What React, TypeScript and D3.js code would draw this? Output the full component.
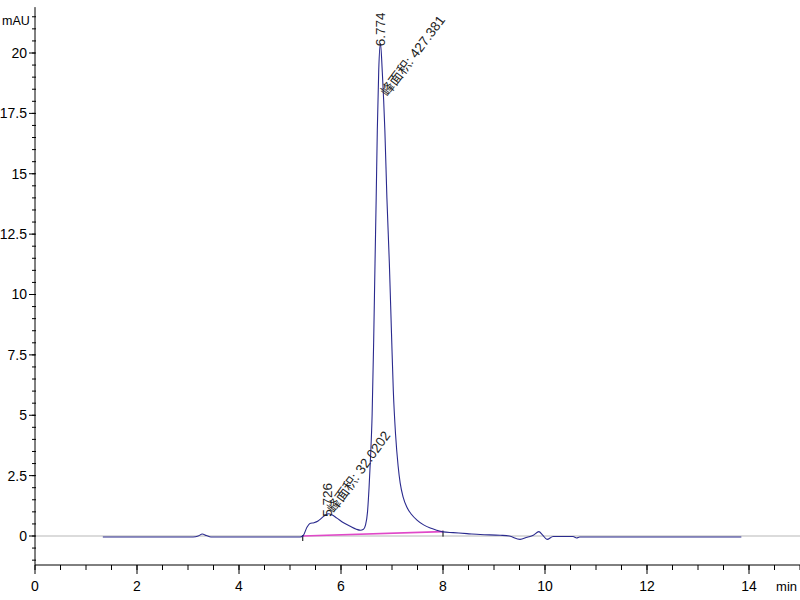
import React from 'react';
import { scaleLinear, line as d3Line, curveMonotoneX, range } from 'd3';

// retention time (min) and signal (mAU)
const times = [
  1.33, 3.1, 3.2, 3.28, 3.36, 3.45, 5.2, 5.26, 5.33, 5.39, 5.47, 5.55, 5.63, 5.7, 5.75,
  5.82, 5.92, 6.05, 6.18, 6.3, 6.38, 6.44, 6.48, 6.52, 6.55, 6.58, 6.61, 6.64, 6.667,
  6.69, 6.712, 6.74, 6.774, 6.81, 6.86, 6.9, 6.948, 6.99, 7.026, 7.07, 7.12, 7.16, 7.22,
  7.29, 7.38, 7.49, 7.62, 7.75, 7.88, 8.0, 8.2, 8.47, 8.73, 9.12, 9.3, 9.51, 9.65, 9.77,
  9.88, 9.95, 10.04, 10.16, 10.55, 10.62, 10.68, 10.8, 13.85,
];
const signal = [
  -0.04, -0.04, 0.0, 0.08, 0.02, -0.04, -0.04, 0.02, 0.35, 0.52, 0.55, 0.62, 0.76, 0.88, 0.92,
  0.88, 0.74, 0.55, 0.4, 0.28, 0.24, 0.28, 0.45, 1.0, 2.0, 3.3, 5.0, 8.0, 11.3,
  14.0, 16.8, 19.3, 20.4, 19.2, 16.8, 14.0, 11.3, 8.4, 6.0, 4.2, 2.9, 2.2, 1.6,
  1.2, 0.9, 0.66, 0.46, 0.33, 0.24, 0.17, 0.14, 0.1, 0.06, 0.03, 0.0, -0.14, -0.05, 0.03,
  0.18, 0.05, -0.14, -0.02, -0.02, -0.08, -0.04, -0.04, -0.04,
];

// integration baseline of the two peaks
const baseTimes = [5.25, 8.0];
const baseValues = [0, 0.18];

// peak annotations
const peakTimes = [5.726, 6.774];
const peakTops = [0.92, 20.4];
const peakAreas = ['32.0202', '427.381'];

const yLabels = [0, 2.5, 5, 7.5, 10, 12.5, 15, 17.5, 20];
const xLabels = [0, 2, 4, 6, 8, 10, 12, 14];

const W = 800;
const H = 600;

export default function App() {
  const x = scaleLinear().domain([0, 15]).range([35, 800]);
  const y = scaleLinear().domain([0, 20]).range([536, 53]);
  const axisY = 565;

  const pts = times.map((t, i) => [t, signal[i]] as [number, number]);
  const trace = d3Line<[number, number]>()
    .x((d) => x(d[0]))
    .y((d) => y(d[1]))
    .curve(curveMonotoneX)(pts);

  const yMinor = range(-1, 22, 0.5);
  const xMinor = range(0, 15.01, 0.5);
  const font = '"Liberation Sans", Arial, sans-serif';
  const cjk = '"Liberation Sans", "Noto Sans CJK SC", sans-serif';

  return (
    <div style={{ position: 'absolute', left: 0, top: 0 }}>
      <svg width={W} height={H} style={{ display: 'block', background: '#fff' }}>
        {/* zero line */}
        <line x1={x(0)} x2={W} y1={y(0)} y2={y(0)} stroke="#cfcfcf" strokeWidth={1.5} />

        {/* y axis */}
        <line x1={35} x2={35} y1={y(21.9)} y2={axisY} stroke="#000" />
        {yMinor.map((v) => (
          <line key={'ym' + v} x1={32} x2={36} y1={y(v)} y2={y(v)} stroke="#000" />
        ))}
        {yLabels.map((v) => (
          <g key={'yl' + v}>
            <line x1={29} x2={35} y1={y(v)} y2={y(v)} stroke="#000" />
            <text
              x={27}
              y={y(v)}
              dy="0.35em"
              textAnchor="end"
              fontSize={14}
              fontFamily={font}
            >
              {v}
            </text>
          </g>
        ))}
        <text x={2} y={25} fontSize={12.5} fontFamily={font}>
          mAU
        </text>

        {/* x axis */}
        <line x1={35} x2={W} y1={axisY} y2={axisY} stroke="#000" />
        {xMinor.map((v) => (
          <line key={'xm' + v} x1={x(v)} x2={x(v)} y1={axisY} y2={axisY + 5} stroke="#000" />
        ))}
        {xLabels.map((v) => (
          <g key={'xl' + v}>
            <line x1={x(v)} x2={x(v)} y1={axisY} y2={axisY + 9} stroke="#000" />
            <text x={x(v)} y={591} textAnchor="middle" fontSize={14} fontFamily={font}>
              {v}
            </text>
          </g>
        ))}
        <text x={797} y={591} textAnchor="end" fontSize={13} fontFamily={font}>
          min
        </text>

        {/* integration baseline */}
        <line
          x1={x(baseTimes[0])}
          x2={x(baseTimes[1])}
          y1={y(baseValues[0])}
          y2={y(baseValues[1])}
          stroke="#e048c8"
          strokeWidth={1.6}
        />
        {baseTimes.map((t, i) => (
          <line
            key={'bt' + i}
            x1={x(t)}
            x2={x(t)}
            y1={y(baseValues[i]) - 1}
            y2={y(baseValues[i]) + 5}
            stroke="#000"
          />
        ))}

        {/* signal trace */}
        <path d={trace || ''} fill="none" stroke="#2a2a8e" strokeWidth={1.1} />

        {/* annotations */}
        {peakTimes.map((t, i) => {
          const px = x(t);
          const py = y(peakTops[i]);
          const angle = i === 0 ? -54 : -53;
          return (
            <g key={'pk' + i} fontFamily={font} fill="#222">
              <text
                transform={`translate(${px + 5},${py + 3}) rotate(-90)`}
                fontSize={13.5}
              >
                {t.toFixed(3)}
              </text>
              <text
                transform={`translate(${px + 7},${py + (i === 0 ? 0 : 54)}) rotate(${angle})`}
                fontSize={13.5}
                fontFamily={cjk}
              >
                峰面积: {peakAreas[i]}
              </text>
            </g>
          );
        })}
      </svg>
    </div>
  );
}
